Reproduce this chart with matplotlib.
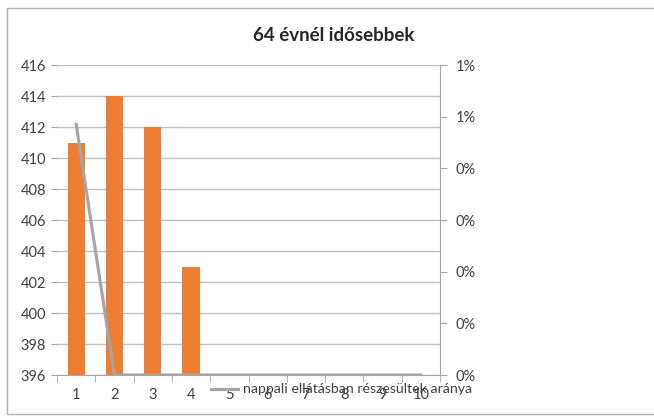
import matplotlib
matplotlib.use("Agg")
import matplotlib.pyplot as plt
from matplotlib.patches import Rectangle
from matplotlib.ticker import FuncFormatter, MultipleLocator

# data
categories = [1, 2, 3, 4, 5, 6, 7, 8, 9, 10]
bar_values = [411, 414, 412, 403, 0, 0, 0, 0, 0, 0]
line_values = [0.00485, 0, 0, 0, 0, 0, 0, 0, 0, 0]
line_label = "nappali ellátásban részesültek aránya"
title = "64 évnél idősebbek"

plt.rcParams["font.family"] = ["Lato", "DejaVu Sans"]
text_color = "#404040"
axis_color = "#A6A6A6"

fig = plt.figure(figsize=(6.54, 4.17), dpi=100)
fig.patches.append(Rectangle((0.011, 0.007), 1.0, 0.974, transform=fig.transFigure,
                             fill=False, edgecolor="#B0B0B0", linewidth=1.0))

ax = fig.add_axes([0.0872, 0.1007, 0.5856, 0.7434])
ax.bar(categories, bar_values, width=0.45, color="#ED7D31", zorder=2)
ax.set_ylim(396, 416)
ax.set_xlim(0.5, 10.5)
ax.yaxis.set_major_locator(MultipleLocator(2))
ax.grid(axis="y", color="#BFBFBF", linewidth=1.0, zorder=0)
ax.set_axisbelow(True)
ax.set_xticks(categories)
ax.set_xticks([c + 0.5 for c in [0] + categories], minor=True)
ax.tick_params(axis="x", which="major", length=0, pad=9, labelsize=10.5, labelcolor=text_color)
ax.tick_params(axis="x", which="minor", length=5, color=axis_color)
ax.tick_params(axis="y", length=4, color=axis_color, labelsize=10.5, labelcolor=text_color, pad=4)
for side in ["top", "left", "right"]:
    ax.spines[side].set_visible(False)
ax.spines["bottom"].set_color(axis_color)

ax2 = ax.twinx()
ax2.plot(categories, line_values, color="#A5A5A5", linewidth=2.25, label=line_label, zorder=3)
ax2.set_ylim(0, 0.006)
ax2.yaxis.set_major_locator(MultipleLocator(0.001))
ax2.yaxis.set_major_formatter(FuncFormatter(lambda v, p: "%d%%" % int(v * 100 + 0.5 + 1e-9)))
ax2.tick_params(axis="y", length=5, color=axis_color, labelsize=10.5, labelcolor=text_color, pad=6)
for side in ["top", "left", "bottom"]:
    ax2.spines[side].set_visible(False)
ax2.spines["right"].set_color(axis_color)

fig.text(0.51, 0.915, title, ha="center", va="center", fontsize=13.5,
         fontweight="bold", color="#262626")

ax2.legend(loc="center left", bbox_to_anchor=(0.312, 0.066), bbox_transform=fig.transFigure,
           frameon=False, fontsize=10.2, handlelength=1.9, handletextpad=0.35,
           labelcolor=text_color, borderpad=0)

fig.savefig("out.png", dpi=100)
